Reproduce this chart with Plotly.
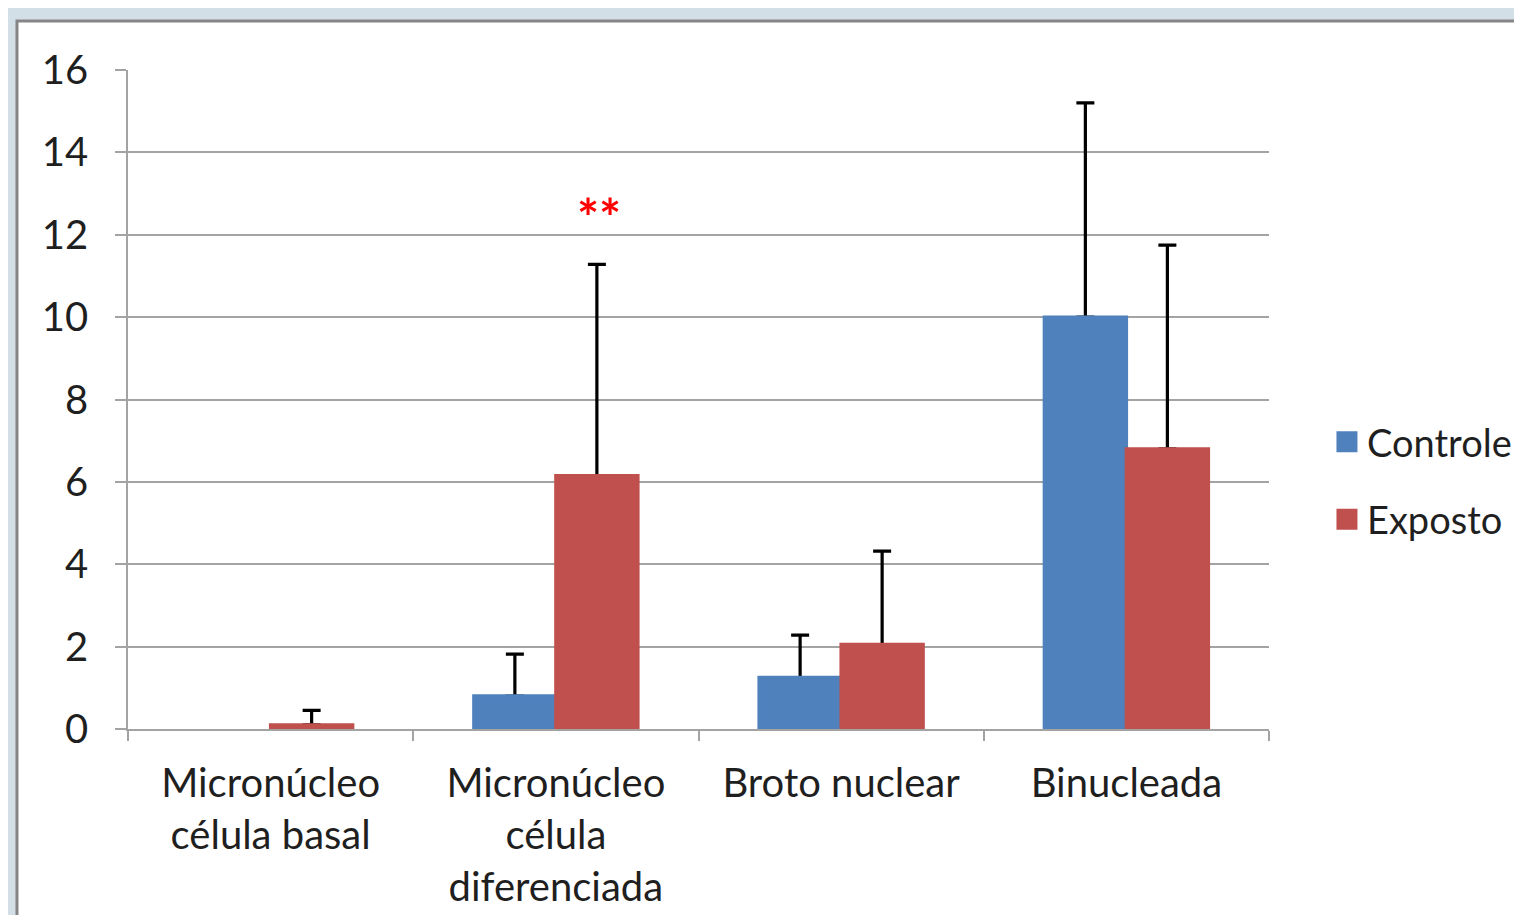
import plotly.graph_objects as go

categories = ["Micronúcleo<br>célula basal", "Micronúcleo<br>célula<br>diferenciada",
              "Broto nuclear", "Binucleada"]
controle = [None, 0.8, 1.25, 10.0]
controle_err = [None, 1.02, 1.03, 5.2]
exposto = [0.1, 6.15, 2.05, 6.8]
exposto_err = [0.35, 5.13, 2.27, 4.95]
series_names = ["Controle", "Exposto"]
colors = ["#4F81BD", "#C0504D"]
signif_label = "**"
y_ticks = [0, 2, 4, 6, 8, 10, 12, 14, 16]

FONT = "Lato, 'Open Sans', sans-serif"
TXT = "#1f1f1f"
GRID = "#a3a3a3"
FS = 40

fig = go.Figure()

series = [(controle, controle_err), (exposto, exposto_err)]
# bars with (upper only) error bars
for (vals, errs), name, col in zip(series, series_names, colors):
    fig.add_trace(go.Bar(
        x=categories, y=vals, name=name, offsetgroup=name,
        marker=dict(color=col, line=dict(width=0)),
        error_y=dict(type="data", array=errs, arrayminus=[0] * len(errs),
                     symmetric=False, color="black", thickness=3.2, width=9),
        showlegend=False,
    ))
# same bars again on top, to hide the error-bar base at the bar top
for (vals, errs), name, col in zip(series, series_names, colors):
    fig.add_trace(go.Bar(
        x=categories, y=vals, name=name, offsetgroup=name,
        marker=dict(color=col, line=dict(width=3.4, color=col)),
        showlegend=False, hoverinfo="skip",
    ))
# legend entries
for i, (name, col) in enumerate(zip(series_names, colors)):
    fig.add_trace(go.Scatter(
        x=[None], y=[None], mode="markers", name=name, legendgroup=name,
        marker=dict(symbol="square", size=16, color=col, line=dict(width=5, color=col)),
    ))

fig.add_annotation(
    x=categories[1], y=12.42, xref="x", yref="y", text="<b>" + signif_label + "</b>",
    showarrow=False, xshift=43, yanchor="middle",
    font=dict(color="#FF0000", size=52, family=FONT),
)

# chart frame
fig.add_shape(type="rect", xref="paper", yref="paper", x0=-0.0973, x1=1.4,
              y0=-0.5, y1=1.0744, layer="below", fillcolor="white",
              line=dict(color="#858585", width=3))

fig.update_layout(
    width=1540, height=915,
    margin=dict(l=120, r=279, t=62, b=194),
    paper_bgcolor="#d3dfe7", plot_bgcolor="rgba(0,0,0,0)",
    barmode="group", bargap=0.425, bargroupgap=0,
    font=dict(family=FONT, size=FS, color=TXT),
    legend=dict(x=1.0508, y=0.377, xanchor="left", yanchor="middle",
                font=dict(size=38, family=FONT, color=TXT),
                traceorder="grouped", tracegroupgap=25,
                bgcolor="rgba(0,0,0,0)"),
    showlegend=True,
)
fig.update_xaxes(
    showline=True, linecolor=GRID, linewidth=1.5,
    ticks="outside", tickson="boundaries", ticklen=10, tickcolor=GRID, tickwidth=1.5,
    showgrid=False, ticklabelstandoff=18,
    tickfont=dict(size=FS, family=FONT, color=TXT),
)
fig.update_yaxes(
    range=[0, 16], tickvals=y_ticks, showline=True, linecolor=GRID, linewidth=1.5,
    ticks="outside", ticklen=11, tickcolor=GRID, tickwidth=1.5,
    showgrid=True, gridcolor=GRID, gridwidth=1.5, zeroline=False,
    ticklabelstandoff=19,
    tickfont=dict(size=FS, family=FONT, color=TXT),
)

fig.write_html("out.html")
